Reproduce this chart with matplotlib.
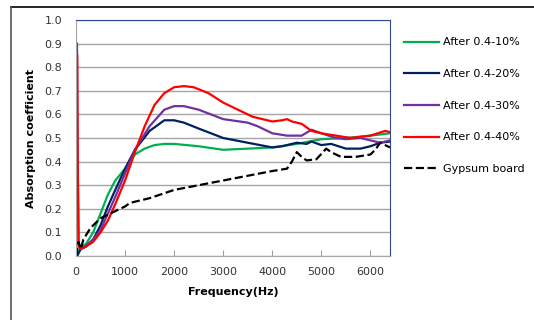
import matplotlib.pyplot as plt
from matplotlib.lines import Line2D

# frequencies (Hz) and absorption coefficients
freq_10 = [0, 20, 100, 200, 350, 500, 650, 800, 1000, 1200, 1400, 1600, 1800, 2000, 2500,
           3000, 3500, 4000, 4500, 5000, 5500, 6000, 6400]
abs_10 = [0.02, 0.0, 0.04, 0.05, 0.10, 0.18, 0.26, 0.32, 0.37, 0.43, 0.455, 0.47, 0.475, 0.475, 0.465,
          0.45, 0.455, 0.46, 0.475, 0.495, 0.50, 0.51, 0.52]

freq_20 = [0, 20, 100, 200, 350, 500, 650, 800, 1000, 1200, 1500, 1800, 2000, 2200, 2500,
           3000, 3500, 4000, 4200, 4500, 4700, 4800, 5000, 5200, 5500, 5800, 6000, 6200, 6400]
abs_20 = [0.05, 0.0, 0.03, 0.04, 0.07, 0.13, 0.21, 0.28, 0.37, 0.45, 0.53, 0.575, 0.575, 0.565, 0.54,
          0.50, 0.48, 0.46, 0.465, 0.48, 0.475, 0.485, 0.47, 0.475, 0.455, 0.455, 0.465, 0.48, 0.485]

freq_30 = [20, 30, 50, 100, 200, 350, 500, 650, 800, 1000, 1200, 1500, 1800, 2000, 2200, 2500,
           3000, 3500, 3700, 4000, 4300, 4600, 4800, 5000, 5300, 5500, 5800, 6000, 6200, 6400]
abs_30 = [0.90, 0.5, 0.05, 0.03, 0.04, 0.07, 0.11, 0.18, 0.25, 0.35, 0.45, 0.55, 0.62, 0.635, 0.635, 0.62,
          0.58, 0.565, 0.55, 0.52, 0.51, 0.51, 0.535, 0.52, 0.50, 0.495, 0.50, 0.49, 0.48, 0.49]

freq_40 = [25, 35, 55, 100, 200, 350, 500, 650, 800, 1000, 1200, 1400, 1600, 1800, 2000, 2200, 2400,
           2700, 3000, 3300, 3600, 4000, 4200, 4300, 4400, 4600, 4800, 5000, 5300, 5600, 6000, 6300, 6400]
abs_40 = [0.85, 0.4, 0.04, 0.03, 0.04, 0.06, 0.10, 0.15, 0.22, 0.32, 0.44, 0.55, 0.64, 0.69, 0.715, 0.72, 0.715,
          0.69, 0.65, 0.62, 0.59, 0.57, 0.575, 0.58, 0.57, 0.56, 0.53, 0.52, 0.51, 0.50, 0.51, 0.53, 0.525]

freq_gyp = [0, 50, 100, 150, 300, 500, 800, 1000, 1100, 1500, 2000, 2500, 3000, 3500, 4000, 4300,
            4400, 4500, 4600, 4700, 4900, 5100, 5200, 5400, 5700, 6000, 6100, 6200, 6300, 6400]
abs_gyp = [0.0, 0.06, 0.03, 0.07, 0.12, 0.16, 0.19, 0.21, 0.225, 0.245, 0.28, 0.30, 0.32, 0.34, 0.36, 0.37,
           0.40, 0.44, 0.42, 0.405, 0.41, 0.455, 0.44, 0.42, 0.42, 0.43, 0.45, 0.48, 0.47, 0.46]

series = [
    (freq_10, abs_10, 'After 0.4-10%', '#00b050', '-'),
    (freq_20, abs_20, 'After 0.4-20%', '#002060', '-'),
    (freq_30, abs_30, 'After 0.4-30%', '#7030a0', '-'),
    (freq_40, abs_40, 'After 0.4-40%', '#ff0000', '-'),
    (freq_gyp, abs_gyp, 'Gypsum board', '#000000', '--'),
]

plt.rcParams['font.family'] = ['DejaVu Sans']

fig = plt.figure(figsize=(5.34, 3.2), dpi=100)
ax = fig.add_axes([76 / 534, 1 - 256 / 320, 314 / 534, 236 / 320])

for f, a, lab, col, ls in series:
    ax.plot(f, a, color=col, linestyle=ls, linewidth=1.6, label=lab)

ax.set_xlim(0, 6400)
ax.set_ylim(0, 1.0)
ax.set_xticks([0, 1000, 2000, 3000, 4000, 5000, 6000])
ax.set_yticks([i / 10 for i in range(11)])
ax.set_yticklabels([f'{i / 10:.1f}' for i in range(11)])
ax.tick_params(axis='x', direction='in', length=4, color='#a0a0a0', labelsize=8, pad=8,
               labelcolor='#333333')
ax.tick_params(axis='y', length=0, labelsize=8, pad=10, labelcolor='#333333')
ax.yaxis.grid(True, color='#a6a6a6', linewidth=1)
ax.set_axisbelow(True)
for s in ['left', 'bottom']:
    ax.spines[s].set_color('#a6a6a6')
for s in ['top', 'right']:
    ax.spines[s].set_color('#2e4a8a')

ax.set_xlabel('Frequency(Hz)', fontsize=8, fontweight='bold', labelpad=7)
ax.set_ylabel('Absorption coefficient', fontsize=8, fontweight='bold', labelpad=6)

ax.legend(loc='upper left', bbox_to_anchor=(1.03, 0.945), frameon=False, fontsize=8,
          handlelength=3.2, labelspacing=1.95, handletextpad=0.3, borderaxespad=0)

# outer chart border (top and left)
fig.add_artist(Line2D([11 / 534, 1], [1 - 7 / 320, 1 - 7 / 320], color='black', linewidth=1.2))
fig.add_artist(Line2D([11 / 534, 11 / 534], [0, 1 - 7 / 320], color='#555555', linewidth=1.2))

fig.savefig('out.png', dpi=100)
